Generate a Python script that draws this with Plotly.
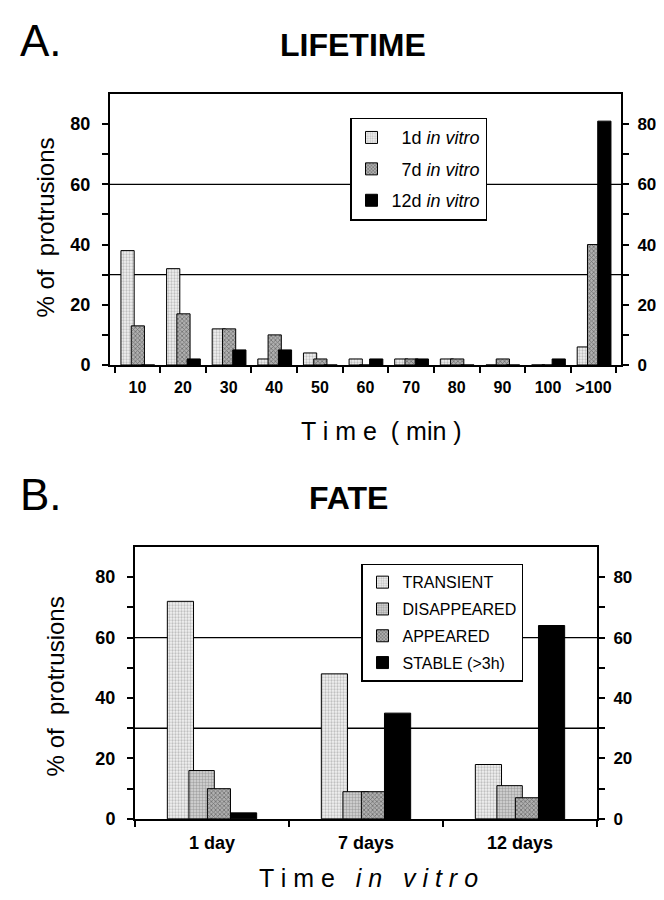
import plotly.graph_objects as go

# Panel A: protrusion lifetime
LIFETIME_BINS = ["10", "20", "30", "40", "50", "60", "70", "80", "90", "100", ">100"]
LIFETIME_1D = [38, 32, 12, 2, 4, 2, 2, 2, 0, 0, 6]
LIFETIME_7D = [13, 17, 12, 10, 2, 0, 2, 2, 2, 0, 40]
LIFETIME_12D = [0, 2, 5, 5, 0, 2, 2, 0, 0, 2, 81]

# Panel B: protrusion fate
FATE_AGES = ["1 day", "7 days", "12 days"]
FATE_TRANSIENT = [72, 48, 18]
FATE_DISAPPEARED = [16, 9, 11]
FATE_APPEARED = [10, 9, 7]
FATE_STABLE = [2, 35, 64]

Y_TICKS = [0, 10, 20, 30, 40, 50, 60, 70, 80]
Y_LABELS = ["0", "", "20", "", "40", "", "60", "", "80"]
GRID_LEVELS = [30, 60]

FONT = "Liberation Sans, Arial, Helvetica, sans-serif"
NB = "\u00a0"

W, H = 664, 900


def px(x):
    return x / W


def py(y):
    return 1 - y / H


LIGHT = dict(shape=".", bgcolor="#f2f2f2", fgcolor="#8c8c8c", size=3, solidity=0.45)
MID = dict(shape=".", bgcolor="#d9d9d9", fgcolor="#6e6e6e", size=3, solidity=0.5)
DARK = dict(shape="x", bgcolor="#b0b0b0", fgcolor="#303030", size=3, solidity=0.45)
OUTLINE = dict(color="black", width=1)

fig = go.Figure()


def add_bar(x, y, name, pattern, color, offset, width, xa, ya, legend, group):
    fig.add_trace(go.Bar(
        x=x, y=y, name=name, offset=offset, width=width,
        marker=dict(color=color, pattern=pattern, line=OUTLINE),
        xaxis=xa, yaxis=ya, legend=legend, legendgroup=group,
    ))


add_bar(LIFETIME_BINS, LIFETIME_1D, NB * 2 + "1d <i>in vitro</i>", LIGHT, "#f2f2f2",
        -0.36, 0.29, "x", "y", "legend", "a1")
add_bar(LIFETIME_BINS, LIFETIME_7D, NB * 2 + "7d <i>in vitro</i>", DARK, "#b0b0b0",
        -0.135, 0.29, "x", "y", "legend", "a2")
add_bar(LIFETIME_BINS, LIFETIME_12D, "12d <i>in vitro</i>", None, "black",
        0.09, 0.29, "x", "y", "legend", "a3")

add_bar(FATE_AGES, FATE_TRANSIENT, "TRANSIENT", LIGHT, "#f2f2f2",
        -0.29, 0.17, "x2", "y3", "legend2", "b1")
add_bar(FATE_AGES, FATE_DISAPPEARED, "DISAPPEARED", MID, "#d9d9d9",
        -0.15, 0.165, "x2", "y3", "legend2", "b2")
add_bar(FATE_AGES, FATE_APPEARED, "APPEARED", DARK, "#b0b0b0",
        -0.03, 0.15, "x2", "y3", "legend2", "b3")
add_bar(FATE_AGES, FATE_STABLE, "STABLE (>3h)", None, "black",
        0.12, 0.17, "x2", "y3", "legend2", "b4")

# empty traces so the right-hand axes get drawn
fig.add_trace(go.Bar(x=[], y=[], xaxis="x", yaxis="y2", showlegend=False))
fig.add_trace(go.Bar(x=[], y=[], xaxis="x2", yaxis="y4", showlegend=False))


def tick_font(size):
    return dict(family=FONT, size=size, color="black", weight="bold")


xcommon = dict(
    type="category", showline=True, linecolor="black", linewidth=2, mirror=True,
    ticks="outside", ticklen=6, tickwidth=1.5, tickcolor="black", tickson="boundaries",
    tickangle=0, ticklabelstandoff=7, showgrid=False, zeroline=False, fixedrange=True,
)
ycommon = dict(
    range=[0, 90], tickmode="array", tickvals=Y_TICKS, ticktext=Y_LABELS,
    showline=True, linecolor="black", linewidth=2, ticks="outside", ticklen=6,
    tickwidth=1.5, tickcolor="black", showgrid=False, zeroline=False, fixedrange=True,
)
left_y = dict(ycommon, tickfont=tick_font(18), ticklabelstandoff=8)
right_y = dict(ycommon, tickfont=tick_font(17), ticklabelstandoff=5, side="right")

fig.update_layout(
    width=W, height=H, margin=dict(l=0, r=0, t=0, b=0),
    paper_bgcolor="white", plot_bgcolor="white", barmode="overlay",
    font=dict(family=FONT, color="black"),
    xaxis=dict(xcommon, domain=[px(102), px(613)], range=[-0.6, 10.6], anchor="y",
               tickfont=tick_font(16)),
    yaxis=dict(left_y, domain=[py(361), py(87)], anchor="x"),
    yaxis2=dict(right_y, overlaying="y", anchor="x"),
    xaxis2=dict(xcommon, domain=[px(127), px(589)], range=[-0.5, 2.5], anchor="y3",
                tickfont=tick_font(18)),
    yaxis3=dict(left_y, domain=[py(820), py(545)], anchor="x2"),
    yaxis4=dict(right_y, overlaying="y3", anchor="x2"),
    legend=dict(
        x=px(342), y=py(111), xanchor="left", yanchor="top",
        bordercolor="black", borderwidth=1.5, bgcolor="white",
        font=dict(family=FONT, size=18, color="black"), tracegroupgap=5,
    ),
    legend2=dict(
        x=px(353), y=py(562), xanchor="left", yanchor="top",
        bordercolor="black", borderwidth=1.5, bgcolor="white",
        font=dict(family=FONT, size=16, color="black"), tracegroupgap=3,
    ),
    showlegend=True,
)

for level in GRID_LEVELS:
    fig.add_shape(type="line", xref="x domain", yref="y", x0=0, x1=1, y0=level, y1=level,
                  line=dict(color="black", width=1.3), layer="below")
    fig.add_shape(type="line", xref="x2 domain", yref="y3", x0=0, x1=1, y0=level, y1=level,
                  line=dict(color="black", width=1.3), layer="below")


def note(text, x, y, size, bold=False, angle=0):
    fig.add_annotation(
        text=text, x=px(x), y=py(y), xref="paper", yref="paper",
        showarrow=False, textangle=angle, xanchor="center", yanchor="middle",
        font=dict(family=FONT, size=size, color="black", weight="bold" if bold else "normal"),
    )


note("A.", 33, 33, 44)
note("LIFETIME", 345, 37, 32, bold=True)
note("B.", 33, 492, 44)
note("FATE", 341, 496, 32, bold=True)
note("% of  protrusions", 38, 222, 24, angle=-90)
note("% of  protrusions", 47, 686, 24, angle=-90)
note("T i m e  ( min )", 373, 428, 25)
note("T i m e   <i>i n   v i t r o</i>", 360, 880, 25)

fig.write_html("out.html")
